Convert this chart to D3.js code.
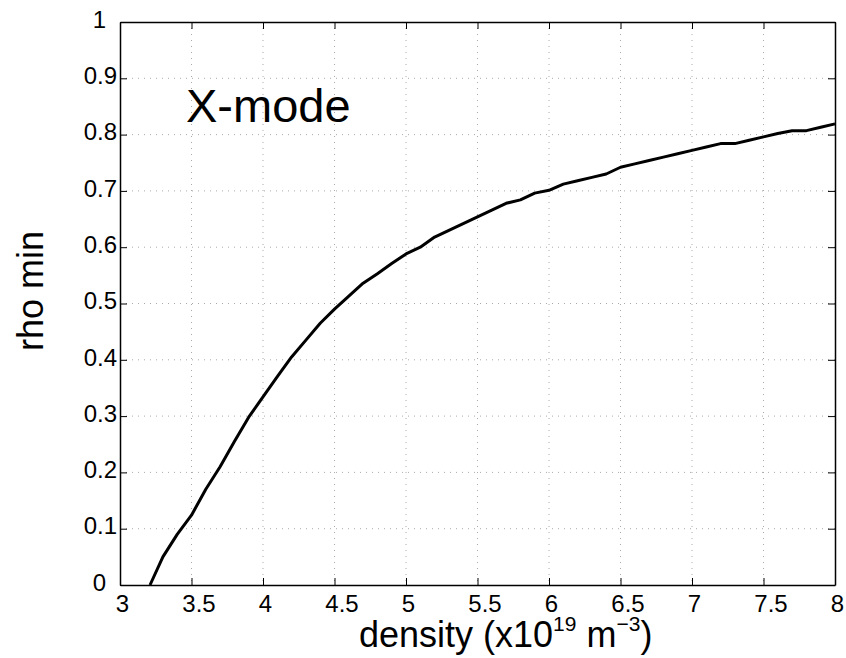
<!DOCTYPE html>
<html>
<head>
<meta charset="utf-8">
<script src="https://cdn.jsdelivr.net/npm/d3@7"></script>
<style>
  body { margin: 0; background: #fff; }
  svg text { font-family: "Liberation Sans", Arial, sans-serif; fill: #000; }
</style>
</head>
<body>
<div id="chart"></div>
<script>
// density (x10^19 m^-3) and rho min
const density = [3.21, 3.3, 3.4, 3.5, 3.6, 3.7, 3.8, 3.9, 4.0, 4.1, 4.2, 4.3, 4.4, 4.5, 4.6, 4.7, 4.8, 4.9,
  5.0, 5.1, 5.2, 5.3, 5.4, 5.5, 5.6, 5.7, 5.8, 5.9, 6.0, 6.1, 6.2, 6.3, 6.4, 6.5, 6.6, 6.7, 6.8, 6.9,
  7.0, 7.1, 7.2, 7.3, 7.4, 7.5, 7.6, 7.7, 7.8, 7.9, 8.0];
const rhoMin = [0, 0.05, 0.09, 0.124, 0.17, 0.21, 0.255, 0.298, 0.334, 0.37, 0.405, 0.435, 0.465, 0.49, 0.513, 0.536, 0.553, 0.571,
  0.588, 0.600, 0.618, 0.630, 0.642, 0.654, 0.666, 0.678, 0.684, 0.696, 0.701, 0.712, 0.718, 0.724, 0.730, 0.742, 0.748, 0.754, 0.760, 0.766,
  0.772, 0.778, 0.784, 0.784, 0.790, 0.796, 0.802, 0.807, 0.807, 0.813, 0.819];
const xTicks = [3, 3.5, 4, 4.5, 5, 5.5, 6, 6.5, 7, 7.5, 8];
const yTicks = [0, 0.1, 0.2, 0.3, 0.4, 0.5, 0.6, 0.7, 0.8, 0.9, 1];

const width = 846, height = 658;
const margin = { top: 22, right: 11, bottom: 73, left: 120 };
const w = width - margin.left - margin.right;
const h = height - margin.top - margin.bottom;

const svg = d3.select("#chart").append("svg")
  .attr("width", width)
  .attr("height", height);

const g = svg.append("g").attr("transform", `translate(${margin.left},${margin.top})`);

const x = d3.scaleLinear().domain([3, 8]).range([0, w]);
const y = d3.scaleLinear().domain([0, 1]).range([h, 0]);

// dotted grid
g.append("g").selectAll("line").data(xTicks.slice(1, -1)).join("line")
  .attr("x1", d => x(d)).attr("x2", d => x(d))
  .attr("y1", 0).attr("y2", h)
  .attr("stroke", "#aaa").attr("stroke-width", 1).attr("stroke-dasharray", "1,5");
g.append("g").selectAll("line").data(yTicks.slice(1, -1)).join("line")
  .attr("x1", 0).attr("x2", w)
  .attr("y1", d => y(d)).attr("y2", d => y(d))
  .attr("stroke", "#aaa").attr("stroke-width", 1).attr("stroke-dasharray", "1,5");

// axes, ticks inward on all four sides
const tick = 7;
const xAxis = g.append("g").attr("transform", `translate(0,${h})`)
  .call(d3.axisBottom(x).tickValues(xTicks).tickSize(-tick).tickPadding(10).tickSizeOuter(0).tickFormat(d3.format("")));
const yAxis = g.append("g")
  .call(d3.axisLeft(y).tickValues(yTicks).tickSize(-tick).tickPadding(14).tickSizeOuter(0).tickFormat(d3.format("")));
g.append("g")
  .call(d3.axisTop(x).tickValues(xTicks).tickSize(-tick).tickSizeOuter(0).tickFormat(""));
g.append("g").attr("transform", `translate(${w},0)`)
  .call(d3.axisRight(y).tickValues(yTicks).tickSize(-tick).tickSizeOuter(0).tickFormat(""));

g.selectAll(".domain").attr("stroke", "#000").attr("stroke-width", 1.5);
g.selectAll(".tick line").attr("stroke", "#000").attr("stroke-width", 1);
g.selectAll(".tick text").style("font-size", "24px").attr("fill", "#000");
xAxis.selectAll(".tick text")
  .attr("dy", "0.72em")
  .attr("dx", d => Number.isInteger(d) ? 2 : 7);
yAxis.selectAll(".tick text")
  .attr("dy", "0.22em")
  .attr("dx", d => Number.isInteger(d) ? 0 : 11);

// curve
const line = d3.line().x((d, i) => x(density[i])).y(d => y(d));
g.append("path")
  .datum(rhoMin)
  .attr("d", line)
  .attr("fill", "none")
  .attr("stroke", "#000")
  .attr("stroke-width", 3)
  .attr("stroke-linejoin", "round");

// annotation
svg.append("text")
  .attr("x", 186).attr("y", 122)
  .style("font-size", "47px")
  .text("X-mode");

// axis labels
const xl = svg.append("text")
  .attr("x", 359).attr("y", 647)
  .style("font-size", "36px");
xl.append("tspan").text("density (x10");
xl.append("tspan").attr("dy", -16).style("font-size", "21px").text("19");
xl.append("tspan").attr("dy", 16).text(" m");
xl.append("tspan").attr("dy", -16).style("font-size", "21px").text("\u22123");
xl.append("tspan").attr("dy", 16).text(")");

svg.append("text")
  .attr("transform", "translate(43,291) rotate(-90)")
  .attr("text-anchor", "middle")
  .style("font-size", "36px")
  .text("rho min");
</script>
</body>
</html>
